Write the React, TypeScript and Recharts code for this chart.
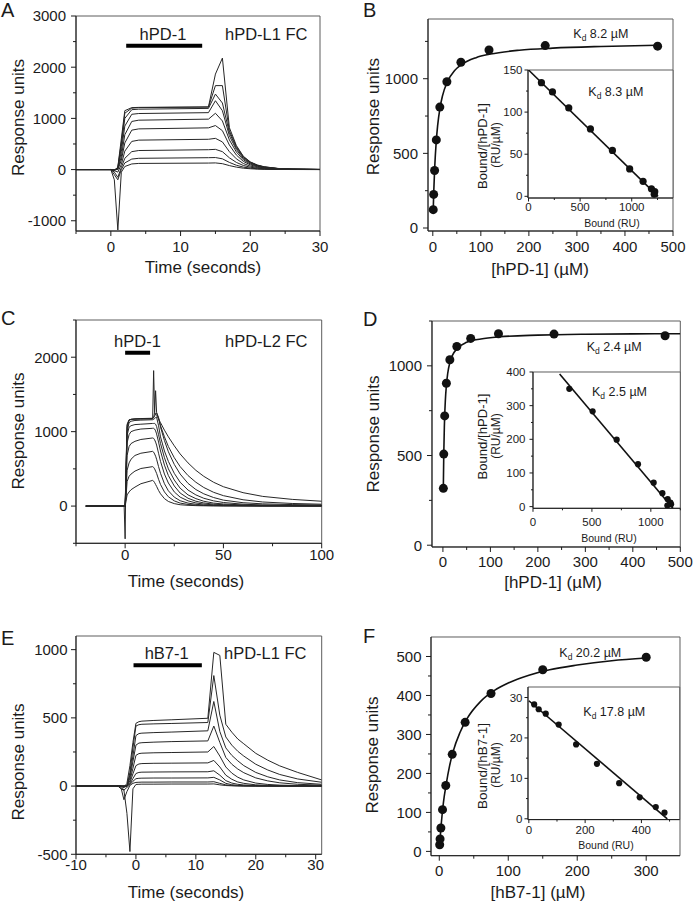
import React from 'react';
import { LineChart, Line, ComposedChart, Scatter, XAxis, YAxis, ReferenceArea, ReferenceLine } from 'recharts';

const FONT = '"Liberation Sans", Arial, Helvetica, sans-serif';
const INK = '#1b1b1b';
const TRACE = '#262626';
const FRAME = '#5c5c5c';

// ---------- A: hPD-1 flowed over hPD-L1 FC (sensorgrams, 10 concentrations)
const tA = [-5, 0, 0.5, 1, 1.5, 2, 3, 4, 14, 15, 16, 17, 18, 19, 20, 21, 22, 24, 26, 30];
const a1 = [0, 0, -30, 50, 600, 1150, 1210, 1215, 1225, 1865, 2178, 820, 470, 260, 150, 90, 55, 22, 10, 3];
const a2 = [0, 0, -20, 40, 520, 1100, 1200, 1210, 1220, 1640, 1640, 760, 450, 250, 145, 85, 52, 20, 9, 3];
const a3 = [0, 0, -10, 30, 450, 1000, 1170, 1180, 1195, 1475, 1300, 720, 420, 235, 135, 80, 48, 19, 8, 2];
const a4 = [0, 0, 0, 20, 350, 850, 1080, 1095, 1112, 1345, 1150, 660, 390, 215, 125, 74, 44, 17, 7, 2];
const a5 = [0, 0, 0, 10, 250, 680, 940, 965, 985, 1100, 950, 580, 345, 190, 110, 65, 38, 15, 6, 2];
const a6 = [0, 0, 0, 0, 180, 520, 770, 795, 815, 860, 760, 480, 285, 160, 92, 54, 32, 12, 5, 1];
const a7 = [0, 0, -20, -50, 100, 360, 550, 575, 592, 610, 540, 350, 210, 118, 68, 40, 24, 9, 4, 1];
const a8 = [0, 0, -50, -150, 40, 220, 350, 372, 388, 395, 350, 230, 140, 80, 46, 27, 16, 6, 3, 1];
const a9 = [0, 0, -100, -200, 0, 130, 205, 220, 232, 235, 210, 140, 85, 48, 28, 16, 10, 4, 2, 0];
const a10 = [0, 0, -200, -1180, -50, 60, 110, 120, 127, 130, 115, 78, 48, 27, 16, 9, 5, 2, 1, 0];

// ---------- B: equilibrium binding hPD-1 / hPD-L1
const bConc = [0.9, 1.8, 3.7, 7.3, 14.6, 29.3, 58.5, 117, 234, 468];
const bResp = [123, 225, 385, 590, 810, 980, 1110, 1192, 1222, 1218];
const bFitX = [0.9, 2, 4, 7, 10, 15, 20, 30, 45, 60, 90, 120, 180, 250, 350, 468];
const bFitY = [123, 244, 408, 573, 684, 805, 883, 978, 1053, 1095, 1141, 1165, 1191, 1205, 1216, 1224];
const bScX = [125, 232, 390, 600, 813, 980, 1110, 1191, 1223, 1218];
const bScY = [135, 124, 105, 80, 54.5, 32.5, 17.8, 9, 5.5, 2.6];
const bLineX = [0, 1255];
const bLineY = [150, 0];

// ---------- C: hPD-1 flowed over hPD-L2 FC
const tC = [-20, -0.5, 0, 0.4, 1, 2, 3, 5, 8, 14, 14.5, 15, 15.5, 16, 17, 18, 20, 22, 25, 28, 32, 36, 40, 45, 50, 60, 70, 85, 100];
const c1 = [0, 0, -440, 500, 1100, 1160, 1165, 1168, 1170, 1172, 1820, 1260, 1235, 1220, 1170, 1120, 1020, 930, 810, 700, 580, 480, 400, 320, 260, 180, 130, 90, 65];
const c2 = [0, 0, 0, 450, 1080, 1155, 1165, 1170, 1173, 1177, 1185, 1260, 1550, 1260, 1180, 1080, 930, 800, 650, 530, 410, 320, 250, 185, 140, 85, 55, 35, 25];
const c3 = [0, 0, 0, 400, 1050, 1150, 1165, 1172, 1176, 1180, 1190, 1210, 1240, 1250, 1190, 1060, 880, 730, 560, 430, 305, 222, 165, 115, 80, 45, 30, 20, 15];
const c4 = [0, 0, 0, 350, 1000, 1120, 1140, 1150, 1155, 1160, 1165, 1175, 1190, 1195, 1080, 930, 740, 600, 440, 320, 215, 150, 105, 70, 48, 25, 15, 10, 8];
const c5 = [0, 0, 0, 300, 950, 1060, 1080, 1095, 1100, 1110, 1110, 1110, 1100, 1070, 960, 840, 650, 500, 350, 240, 150, 100, 65, 40, 28, 15, 10, 6, 5];
const c6 = [0, 0, 0, 250, 850, 960, 1000, 1020, 1035, 1045, 1045, 1035, 1010, 970, 860, 740, 550, 410, 270, 175, 105, 65, 42, 26, 18, 10, 6, 4, 3];
const c7 = [0, 0, 0, 200, 680, 800, 840, 870, 895, 915, 910, 890, 860, 820, 710, 600, 430, 310, 190, 120, 70, 42, 27, 16, 11, 6, 4, 3, 2];
const c8 = [0, 0, 0, 150, 480, 580, 630, 680, 710, 735, 725, 700, 670, 630, 530, 440, 300, 205, 120, 72, 40, 24, 15, 9, 6, 4, 3, 2, 2];
const c9 = [0, 0, 0, 100, 330, 400, 430, 470, 505, 530, 520, 500, 470, 440, 360, 290, 190, 125, 70, 40, 22, 13, 8, 5, 4, 3, 2, 2, 1];
const c10 = [0, 0, 0, 60, 150, 190, 220, 255, 300, 345, 335, 315, 290, 265, 210, 165, 100, 62, 33, 18, 10, 6, 4, 3, 2, 2, 1, 1, 1];

// ---------- D: equilibrium binding hPD-1 / hPD-L2
const dConc = [0.9, 1.8, 3.7, 7.3, 14.6, 29.3, 58.5, 117, 234, 468];
const dResp = [317, 508, 721, 903, 1034, 1108, 1153, 1179, 1177, 1168];
const dFitX = [0.9, 1.8, 3, 3.7, 5, 7.3, 10, 15, 20, 30, 50, 80, 120, 200, 300, 400, 500];
const dFitY = [323, 508, 658, 719, 801, 892, 956, 1022, 1058, 1097, 1131, 1150, 1162, 1171, 1176, 1178, 1179];
const dScX = [308, 506, 710, 891, 1024, 1098, 1143, 1166, 1172, 1140];
const dScY = [350, 283, 199, 126, 71, 40, 22, 12, 7, 3];
const dLineX = [226, 1187];
const dLineY = [394, -5];

// ---------- E: hB7-1 flowed over hPD-L1 FC
const tE = [-10, -3, -2.5, -2, -1.5, -1, -0.5, 0, 0.5, 1, 3, 6, 12, 13, 14, 15, 16, 17, 18, 20, 22, 24, 27, 31];
const e1 = [0, 0, 0, -10, 20, 150, 320, 460, 472, 476, 481, 486, 497, 980, 958, 453, 395, 345, 310, 240, 190, 148, 100, 45];
const e2 = [0, 0, 0, -10, 0, 100, 280, 440, 450, 453, 456, 459, 466, 810, 520, 360, 300, 255, 220, 160, 118, 85, 52, 28];
const e3 = [0, 0, 0, 0, 0, 80, 220, 370, 385, 388, 392, 396, 405, 620, 400, 280, 225, 185, 150, 100, 68, 45, 25, 13];
const e4 = [0, 0, 0, 0, 0, 60, 180, 300, 315, 318, 322, 326, 331, 440, 320, 210, 160, 125, 98, 60, 38, 24, 13, 7];
const e5 = [0, 0, 0, 0, 0, 40, 130, 225, 238, 241, 244, 246, 250, 290, 220, 140, 95, 65, 45, 22, 12, 7, 4, 3];
const e6 = [0, 0, 0, 0, 0, 25, 90, 150, 162, 165, 167, 168, 170, 188, 140, 80, 50, 30, 20, 9, 5, 3, 2, 1];
const e7 = [0, 0, 0, 0, 0, 15, 55, 92, 100, 102, 103, 104, 105, 112, 80, 40, 22, 13, 8, 4, 2, 1, 1, 0];
const e8 = [0, 0, -20, -30, -10, 10, 35, 54, 57, 58, 59, 59, 60, 64, 45, 20, 10, 5, 3, 1, 0, 0, 0, 0];
const e9 = [0, 0, -10, -100, -40, 5, 20, 27, 28, 29, 29, 30, 30, 32, 20, 9, 4, 2, 1, 0, 0, 0, 0, 0];
const e10 = [0, 0, 0, -30, -200, -480, -20, 12, 13, 14, 14, 15, 15, 16, 9, 4, 2, 1, 0, 0, 0, 0, 0, 0];

// ---------- F: equilibrium binding hB7-1 / hPD-L1
const fConc = [0.59, 1.17, 2.3, 4.7, 9.4, 18.75, 37.5, 75, 150, 300];
const fResp = [17, 32, 60, 107, 169, 249, 331, 405, 466, 498];
const fFitX = [0.59, 1, 2, 4, 6, 10, 15, 20, 30, 40, 60, 80, 100, 130, 160, 200, 250, 300];
const fFitY = [15, 27, 52, 92, 125, 172, 220, 256, 305, 340, 385, 413, 432, 452, 466, 478, 489, 496];
const fScX = [19, 35, 60, 106, 168, 242, 321, 394, 451, 482];
const fScY = [28.3, 27.1, 26, 23.3, 18.4, 13.6, 8.8, 5.3, 2.9, 1.5];
const fLineX = [0, 492];
const fLineY = [29.2, 0];

const KEYS = ['s1', 's2', 's3', 's4', 's5', 's6', 's7', 's8', 's9', 's10'];

const toRows = (t: number[], traces: number[][]) =>
  t.map((v, i) => {
    const r: any = { t: v };
    traces.forEach((s, k) => (r[KEYS[k]] = s[i]));
    return r;
  });
const toXY = (xs: number[], ys: number[]) => xs.map((x, i) => ({ x, y: ys[i] }));

const rowsA = toRows(tA, [a1, a2, a3, a4, a5, a6, a7, a8, a9, a10]);
const rowsC = toRows(tC, [c1, c2, c3, c4, c5, c6, c7, c8, c9, c10]);
const rowsE = toRows(tE, [e1, e2, e3, e4, e5, e6, e7, e8, e9, e10]);

// room around each plot area, for tick labels
const ML = 50, MT = 14, MR = 24, MB = 34;

type Geo = { x0: number; y0: number; x1: number; y1: number };
type TickCfg = { majors: number[]; fs: number; gap: number; len: number; minor: number };

const xTick = (c: TickCfg) => (p: any) => {
  const v = p.payload.value;
  const major = c.majors.includes(v);
  return (
    <g>
      <line x1={p.x} y1={p.y} x2={p.x} y2={p.y + (major ? c.len : c.minor)} stroke={INK} />
      {major && (
        <text x={p.x} y={p.y + c.gap} textAnchor="middle" fontSize={c.fs} fontFamily={FONT} fill={INK}>
          {v}
        </text>
      )}
    </g>
  );
};

const yTick = (c: TickCfg) => (p: any) => {
  const v = p.payload.value;
  const major = c.majors.includes(v);
  return (
    <g>
      <line x1={p.x} y1={p.y} x2={p.x - (major ? c.len : c.minor)} y2={p.y} stroke={INK} />
      {major && (
        <text x={p.x - c.gap} y={p.y} dy="0.36em" textAnchor="end" fontSize={c.fs} fontFamily={FONT} fill={INK}>
          {v}
        </text>
      )}
    </g>
  );
};

const size = (g: Geo) => ({ width: g.x1 - g.x0 + ML + MR, height: g.y1 - g.y0 + MT + MB });
const at = (g: Geo): React.CSSProperties => ({ position: 'absolute', left: g.x0 - ML, top: g.y0 - MT });

type AxisCfg = { dom: [number, number]; ticks: number[]; tick: TickCfg };

function SensorPanel(props: { g: Geo; x: AxisCfg; y: AxisCfg; rows: any[]; bar: { x: number; y: number }[] }) {
  const { g, x, y, rows, bar } = props;
  return (
    <div style={at(g)}>
      <LineChart {...size(g)} data={rows} margin={{ top: MT, right: MR, bottom: 0, left: 0 }}>
        <XAxis type="number" dataKey="t" domain={x.dom} allowDataOverflow ticks={x.ticks} interval={0}
          tickSize={0} tickMargin={0} tickLine={false} height={MB} axisLine={{ stroke: INK }} tick={xTick(x.tick)} />
        <YAxis type="number" domain={y.dom} allowDataOverflow ticks={y.ticks} interval={0}
          tickSize={0} tickMargin={0} tickLine={false} width={ML} axisLine={{ stroke: INK }} tick={yTick(y.tick)} />
        <ReferenceArea x1={x.dom[0]} x2={x.dom[1]} y1={y.dom[0]} y2={y.dom[1]} fill="none" stroke={FRAME} ifOverflow="visible" />
        <ReferenceLine segment={bar} stroke="#000" strokeWidth={4} ifOverflow="visible" />
        {KEYS.map((k) => (
          <Line key={k} dataKey={k} type="linear" dot={false} stroke={TRACE} strokeWidth={1} isAnimationActive={false} />
        ))}
      </LineChart>
    </div>
  );
}

function BindPanel(props: {
  g: Geo; x: AxisCfg; y: AxisCfg; pts: { x: number; y: number }[]; fit: { x: number; y: number }[];
  r: number; fitType: 'monotone' | 'linear'; inset?: boolean;
}) {
  const { g, x, y, pts, fit, r, fitType, inset } = props;
  return (
    <div style={at(g)}>
      <ComposedChart {...size(g)} margin={{ top: MT, right: MR, bottom: 0, left: 0 }}>
        <XAxis type="number" dataKey="x" domain={x.dom} allowDataOverflow ticks={x.ticks} interval={0}
          tickSize={0} tickMargin={0} tickLine={false} height={MB} axisLine={{ stroke: INK }} tick={xTick(x.tick)} />
        <YAxis type="number" domain={y.dom} allowDataOverflow ticks={y.ticks} interval={0}
          tickSize={0} tickMargin={0} tickLine={false} width={ML} axisLine={{ stroke: INK }} tick={yTick(y.tick)} />
        <ReferenceArea x1={x.dom[0]} x2={x.dom[1]} y1={y.dom[0]} y2={y.dom[1]}
          fill={inset ? '#fff' : 'none'} fillOpacity={1} stroke={FRAME} ifOverflow="visible" />
        <Line data={fit} dataKey="y" type={fitType} dot={false} stroke="#111" strokeWidth={1.6} isAnimationActive={false} />
        <Scatter data={pts} dataKey="y" fill="#111" isAnimationActive={false}
          shape={(p: any) => <circle cx={p.cx} cy={p.cy} r={r} fill="#111" />} />
      </ComposedChart>
    </div>
  );
}

const mainTick = (majors: number[], gap: number): TickCfg => ({ majors, fs: 15, gap, len: 5, minor: 3 });
const insetTick = (majors: number[], gap: number): TickCfg => ({ majors, fs: 11.5, gap, len: 3.5, minor: 2 });

function Kd({ x, y, v }: { x: number; y: number; v: string }) {
  return (
    <text x={x} y={y} fontSize={12.5} fontFamily={FONT} fill={INK}>
      K<tspan fontSize={8.5} dy={3}>d</tspan>
      <tspan dy={-3}>{' ' + v + ' µM'}</tspan>
    </text>
  );
}

function VText({ x, y, s, fs, len }: { x: number; y: number; s: string; fs: number; len?: number }) {
  return (
    <text x={x} y={y} dy="0.35em" textAnchor="middle" fontSize={fs} fontFamily={FONT} fill={INK}
      transform={`rotate(-90 ${x} ${y})`} textLength={len} lengthAdjust={len ? 'spacingAndGlyphs' : undefined}>
      {s}
    </text>
  );
}

function HText({ x, y, s, fs, anchor = 'middle' }: { x: number; y: number; s: string; fs: number; anchor?: string }) {
  return (
    <text x={x} y={y} textAnchor={anchor as any} fontSize={fs} fontFamily={FONT} fill={INK}>
      {s}
    </text>
  );
}

export default function App() {
  return (
    <div style={{ position: 'absolute', left: 0, top: 0, width: 693, height: 903, background: '#fff', overflow: 'hidden' }}>
      <SensorPanel
        g={{ x0: 76, y0: 16, x1: 320, y1: 231 }}
        x={{ dom: [-5, 30], ticks: [-5, 0, 5, 10, 15, 20, 25, 30], tick: mainTick([0, 10, 20, 30], 21) }}
        y={{ dom: [-1200, 3000], ticks: [-1000, -500, 0, 500, 1000, 1500, 2000, 2500, 3000], tick: mainTick([-1000, 0, 1000, 2000, 3000], 10) }}
        rows={rowsA}
        bar={[{ x: 2.2, y: 2417 }, { x: 13.1, y: 2417 }]}
      />
      <BindPanel
        g={{ x0: 428.3, y0: 19, x1: 673.3, y1: 231 }}
        x={{ dom: [-10, 500], ticks: [0, 50, 100, 150, 200, 250, 300, 350, 400, 450, 500], tick: mainTick([0, 100, 200, 300, 400, 500], 21) }}
        y={{ dom: [-20, 1400], ticks: [0, 250, 500, 750, 1000, 1250], tick: mainTick([0, 500, 1000], 10) }}
        pts={toXY(bConc, bResp)} fit={toXY(bFitX, bFitY)} r={4.5} fitType="monotone"
      />
      <BindPanel
        g={{ x0: 528.3, y0: 69.7, x1: 673.3, y1: 197.7 }}
        x={{ dom: [-5, 1400], ticks: [0, 250, 500, 750, 1000, 1250], tick: insetTick([0, 500, 1000], 13) }}
        y={{ dom: [-2, 150], ticks: [0, 25, 50, 75, 100, 125, 150], tick: insetTick([0, 50, 100, 150], 5.5) }}
        pts={toXY(bScX, bScY)} fit={toXY(bLineX, bLineY)} r={3.6} fitType="linear" inset
      />
      <SensorPanel
        g={{ x0: 76, y0: 320, x1: 321.7, y1: 543.3 }}
        x={{ dom: [-25, 100], ticks: [-25, 0, 25, 50, 75, 100], tick: mainTick([0, 50, 100], 17) }}
        y={{ dom: [-500, 2500], ticks: [-500, 0, 500, 1000, 1500, 2000, 2500], tick: mainTick([0, 1000, 2000], 8.5) }}
        rows={rowsC}
        bar={[{ x: 0, y: 2060 }, { x: 12.7, y: 2060 }]}
      />
      <BindPanel
        g={{ x0: 431.7, y0: 320.7, x1: 680, y1: 546.7 }}
        x={{ dom: [-23, 500], ticks: [0, 50, 100, 150, 200, 250, 300, 350, 400, 450, 500], tick: mainTick([0, 100, 200, 300, 400, 500], 20.5) }}
        y={{ dom: [-10, 1250], ticks: [0, 250, 500, 750, 1000, 1250], tick: mainTick([0, 500, 1000], 10) }}
        pts={toXY(dConc, dResp)} fit={toXY(dFitX, dFitY)} r={4.5} fitType="monotone"
      />
      <BindPanel
        g={{ x0: 532.7, y0: 372, x1: 680, y1: 508.3 }}
        x={{ dom: [0, 1250], ticks: [0, 250, 500, 750, 1000, 1250], tick: insetTick([0, 500, 1000], 18) }}
        y={{ dom: [-5, 400], ticks: [0, 50, 100, 150, 200, 250, 300, 350, 400], tick: insetTick([0, 100, 200, 300, 400], 7.5) }}
        pts={toXY(dScX, dScY)} fit={toXY(dLineX, dLineY)} r={3.1} fitType="linear" inset
      />
      <SensorPanel
        g={{ x0: 76, y0: 635.7, x1: 321.7, y1: 854 }}
        x={{ dom: [-10, 31], ticks: [-10, -5, 0, 5, 10, 15, 20, 25, 30], tick: mainTick([-10, 0, 10, 20, 30], 16) }}
        y={{ dom: [-500, 1100], ticks: [-500, -250, 0, 250, 500, 750, 1000], tick: mainTick([-500, 0, 500, 1000], 8.5) }}
        rows={rowsE}
        bar={[{ x: -0.4, y: 885 }, { x: 11, y: 885 }]}
      />
      <BindPanel
        g={{ x0: 431, y0: 637.3, x1: 680, y1: 856 }}
        x={{ dom: [-12, 349], ticks: [0, 50, 100, 150, 200, 250, 300], tick: mainTick([0, 100, 200, 300], 20.7) }}
        y={{ dom: [-11, 550], ticks: [0, 50, 100, 150, 200, 250, 300, 350, 400, 450, 500], tick: mainTick([0, 100, 200, 300, 400, 500], 9.5) }}
        pts={toXY(fConc, fResp)} fit={toXY(fFitX, fFitY)} r={4.5} fitType="monotone"
      />
      <BindPanel
        g={{ x0: 528.3, y0: 686.7, x1: 680, y1: 819.3 }}
        x={{ dom: [-3, 536], ticks: [0, 100, 200, 300, 400, 500], tick: insetTick([0, 200, 400], 14) }}
        y={{ dom: [-0.2, 32.6], ticks: [0, 5, 10, 15, 20, 25, 30], tick: insetTick([0, 10, 20, 30], 5.5) }}
        pts={toXY(fScX, fScY)} fit={toXY(fLineX, fLineY)} r={3.1} fitType="linear" inset
      />

      <svg width={693} height={903} style={{ position: 'absolute', left: 0, top: 0, pointerEvents: 'none' }}>
        {[
          { s: 'A', x: 1, y: 17 }, { s: 'B', x: 363, y: 17 }, { s: 'C', x: 1, y: 325 },
          { s: 'D', x: 363, y: 326 }, { s: 'E', x: 1, y: 645 }, { s: 'F', x: 363, y: 643 },
        ].map((l) => (
          <HText key={l.s} x={l.x} y={l.y} s={l.s} fs={20} anchor="start" />
        ))}

        <VText x={18.5} y={117.5} s="Response units" fs={17} />
        <VText x={373} y={116.7} s="Response units" fs={17} />
        <VText x={18.5} y={431} s="Response units" fs={17} />
        <VText x={373} y={434} s="Response units" fs={17} />
        <VText x={18.5} y={762} s="Response units" fs={17} />
        <VText x={372.5} y={755} s="Response units" fs={17} />

        <HText x={203} y={272.5} s="Time (seconds)" fs={17} />
        <HText x={540} y={275} s="[hPD-1] (µM)" fs={17} />
        <HText x={186} y={587} s="Time (seconds)" fs={17} />
        <HText x={553} y={588} s="[hPD-1] (µM)" fs={17} />
        <HText x={186} y={898} s="Time (seconds)" fs={17} />
        <HText x={538} y={898} s="[hB7-1] (µM)" fs={17} />

        <HText x={163} y={40} s="hPD-1" fs={16.5} />
        <HText x={225} y={40} s="hPD-L1 FC" fs={16.5} anchor="start" />
        <HText x={137.5} y={346.5} s="hPD-1" fs={16.5} />
        <HText x={225} y={346.5} s="hPD-L2 FC" fs={16.5} anchor="start" />
        <HText x={166.7} y={659} s="hB7-1" fs={16.5} />
        <HText x={224} y={659} s="hPD-L1 FC" fs={16.5} anchor="start" />

        <Kd x={573.3} y={37.5} v="8.2" />
        <Kd x={588.3} y={96} v="8.3" />
        <Kd x={586.7} y={351} v="2.4" />
        <Kd x={592} y={396} v="2.5" />
        <Kd x={559.3} y={657} v="20.2" />
        <Kd x={583.3} y={716} v="17.8" />

        <VText x={483.3} y={146} s="Bound/[hPD-1]" fs={12} len={86} />
        <VText x={496.3} y={145} s="(RU/µM)" fs={12} />
        <VText x={483.3} y={436.5} s="Bound/[hPD-1]" fs={12} len={86} />
        <VText x={496.3} y={436} s="(RU/µM)" fs={12} />
        <VText x={483.3} y={766} s="Bound/[hB7-1]" fs={12} len={86} />
        <VText x={496.3} y={765} s="(RU/µM)" fs={12} />

        <HText x={612} y={226.5} s="Bound (RU)" fs={10.5} />
        <HText x={609} y={541.5} s="Bound (RU)" fs={10.5} />
        <HText x={606} y={849} s="Bound (RU)" fs={10.5} />
      </svg>
    </div>
  );
}
